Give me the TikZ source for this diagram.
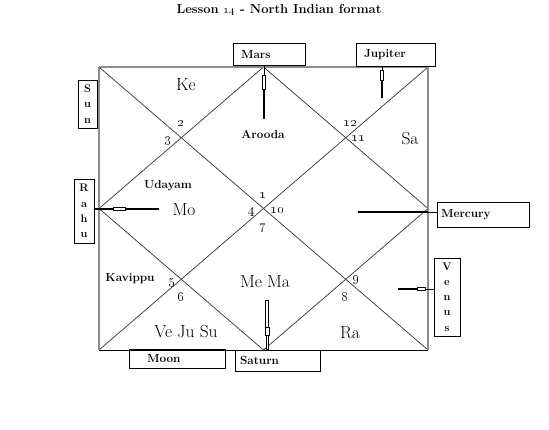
\documentclass[tikz,border=0pt]{standalone}
\begin{document}
\begin{tikzpicture}[x=1bp,y=-1bp,
  diag/.style={draw=black!80, line width=0.7bp},
  grayedge/.style={draw=black!45, line width=1.2bp},
  grayside/.style={draw=black!45, line width=2.4bp},
  big/.style={font=\fontsize{17.5}{20}\selectfont, inner sep=0pt},
  num/.style={font=\fontsize{13.5}{15}\selectfont, inner sep=0pt},
  lbl/.style={font=\fontsize{11.8}{13}\selectfont\bfseries, inner sep=0pt},
  pbox/.style={draw=black, line width=0.8bp, font=\fontsize{11.8}{13}\selectfont\bfseries, anchor=center, inner ysep=0pt, align=left},
  vbox/.style={draw=black, line width=0.8bp, font=\fontsize{11}{15.3}\selectfont\bfseries, anchor=center, inner sep=0pt, align=center},
  thickln/.style={draw=black, line width=2.4bp},
  thinln/.style={draw=black, line width=0.8bp},
  hollow/.style={draw=black, line width=0.6bp, fill=white}
]
\useasboundingbox (0,0) rectangle (549,429);
% chart corners
\coordinate (TL) at (99,67);
\coordinate (TR) at (428,67);
\coordinate (BL) at (99,350);
\coordinate (BR) at (428,350);
\coordinate (T) at (263.5,67);
\coordinate (R) at (428,208.5);
\coordinate (B) at (263.5,350);
\coordinate (L) at (99,208.5);
% diagonals and diamond
\draw[diag] (TL) -- (BR);
\draw[diag] (TR) -- (BL);
\draw[diag] (T) -- (R) -- (B) -- (L) -- cycle;
% frame
\draw[grayedge] (TL) -- (TR);
\draw[draw=black, line width=0.8bp] (BL) -- (BR);
\draw[grayside] (TL) -- (BL);
\draw[grayside] (TR) -- (BR);

% title
\node[font=\fontsize{13}{15}\selectfont\bfseries, inner sep=0pt] (title) at (279,10) {Lesson \oldstylenums{14} - North Indian format};

% boxes
\node[pbox, minimum width=72bp, minimum height=22bp, text width=56bp, inner xsep=8bp] (mars) at (269,54) {Mars};
\node[pbox, minimum width=79bp, minimum height=23bp, text width=63bp, inner xsep=8bp] (jup) at (395.5,54.5) {Jupiter};
\node[pbox, minimum width=92bp, minimum height=25bp, text width=84bp, inner xsep=4bp] (merc) at (483,214.5) {Mercury};
\node[pbox, minimum width=96bp, minimum height=19bp, text width=60bp, inner xsep=18bp] (moon) at (177,358.5) {Moon};
\node[pbox, minimum width=85bp, minimum height=21bp, text width=75bp, inner xsep=5bp] (sat) at (277.5,360.5) {Saturn};
\node[vbox, minimum width=19bp, minimum height=48bp] (sun) at (87.5,104) {S\\u\\n};
\node[vbox, minimum width=20bp, minimum height=64bp] (rahu) at (84,211) {R\\a\\h\\u};
\node[vbox, minimum width=26bp, minimum height=78bp] (ven) at (447,297) {V\\e\\n\\u\\s};

% connectors
% Mars
\coordinate (m1) at (264,75);
\coordinate (m2) at (264,89);
\coordinate (m3) at (264,119);
\draw[thinln] (mars.south -| m1) -- (m1);
\draw[thickln] (m2) -- (m3);
\draw[hollow] ([xshift=-1.5bp]m1) rectangle ([xshift=1.5bp]m2);
% Jupiter
\coordinate (j1) at (382,70);
\coordinate (j2) at (382,80);
\coordinate (j3) at (382,98);
\draw[thinln] (jup.south -| j1) -- (j1);
\draw[thickln] (j2) -- (j3);
\draw[hollow] ([xshift=-1.5bp]j1) rectangle ([xshift=1.5bp]j2);
% Rahu
\coordinate (r1) at (113,209);
\coordinate (r2) at (125,209);
\coordinate (r3) at (159,209);
\draw[draw=black, line width=1.8bp] (rahu.east |- r1) -- (r1);
\draw[thickln] (r2) -- (r3);
\draw[hollow] ([yshift=-1.5bp]r1) rectangle ([yshift=1.5bp]r2);
% Mercury
\coordinate (c1) at (358,212);
\coordinate (c2) at (428,212);
\draw[thickln] (c1) -- (c2);
\draw[thinln] (c2) -- (merc.west |- c2);
% Venus
\coordinate (v1) at (398,289);
\coordinate (v2) at (417,289);
\coordinate (v3) at (425,289);
\draw[thickln] (v1) -- (v2);
\draw[thinln] (v3) -- (ven.west |- v3);
\draw[hollow] ([yshift=-1.5bp]v2) rectangle ([yshift=1.5bp]v3);
% Saturn
\coordinate (s1) at (267,300);
\coordinate (s2) at (267,327);
\coordinate (s3) at (267,335);
\draw[hollow] ([xshift=-1.5bp]s1) rectangle ([xshift=1.5bp]s2);
\draw[hollow] ([xshift=-1bp]s3) rectangle ([xshift=1bp]sat.north -| s3);
\draw[hollow] ([xshift=-2.2bp]s2) rectangle ([xshift=2.2bp]s3);

% planet labels
\node[big] (ke) at (186,85) {Ke};
\node[big] (mo) at (184,210) {Mo};
\node[big] (sa) at (410,139) {Sa};
\node[big] (mema) at (265,282) {Me Ma};
\node[big] (vejusu) at (186,332) {Ve Ju Su};
\node[big] (ra) at (350,333) {Ra};
\node[lbl] (arooda) at (263,134) {Arooda};
\node[lbl] (udayam) at (168,186) {Udayam};
\node[lbl] (kavippu) at (130,279) {Kavippu};

% house numbers
\node[num] (h2) at (181,123) {\oldstylenums{2}};
\node[num] (h3) at (168,141) {\oldstylenums{3}};
\node[num] (h12) at (350,123) {\oldstylenums{12}};
\node[num] (h11) at (358,138) {\oldstylenums{11}};
\node[num] (h1) at (263,195) {\oldstylenums{1}};
\node[num] (h4) at (252,212) {\oldstylenums{4}};
\node[num] (h10) at (277,210) {\oldstylenums{10}};
\node[num] (h7) at (263,228) {\oldstylenums{7}};
\node[num] (h5) at (172,283) {\oldstylenums{5}};
\node[num] (h6) at (181,297) {\oldstylenums{6}};
\node[num] (h8) at (345,297) {\oldstylenums{8}};
\node[num] (h9) at (356,280) {\oldstylenums{9}};
\end{tikzpicture}
\end{document}
